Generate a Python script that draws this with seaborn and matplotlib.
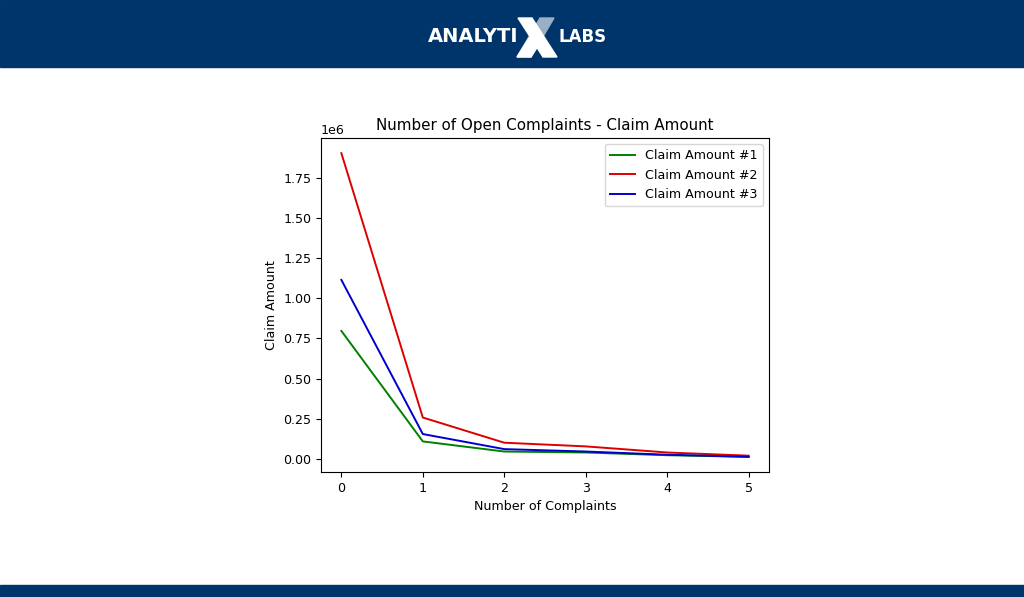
import matplotlib
matplotlib.use("Agg")
import matplotlib.pyplot as plt
import seaborn as sns
import pandas as pd
from matplotlib.patches import Rectangle, Polygon

complaints = [0, 1, 2, 3, 4, 5]
claim1 = [797000, 108000, 45000, 39000, 22000, 12000]
claim2 = [1905000, 257000, 100000, 77000, 39000, 19000]
claim3 = [1115000, 154000, 60000, 45000, 25000, 12000]
series_names = ["Claim Amount #1", "Claim Amount #2", "Claim Amount #3"]
colors = ["green", "#dd0000", "#0000cc"]

df = pd.DataFrame({
    "Number of Complaints": complaints * 3,
    "Claim Amount": claim1 + claim2 + claim3,
    "series": [series_names[0]] * 6 + [series_names[1]] * 6 + [series_names[2]] * 6,
})

W, H = 1024, 597
fig = plt.figure(figsize=(W / 100, H / 100), dpi=100)
navy = "#00356b"


def px(x, y):
    return (x / W, 1 - y / H)


fig.patches.append(Rectangle((0, 1 - 67 / H), 1, 67 / H, transform=fig.transFigure,
                             color=navy, zorder=0))
fig.patches.append(Rectangle((0, 0), 1, 12 / H, transform=fig.transFigure,
                             color=navy, zorder=0))
# logo text
fig.text(428 / W, 1 - 37 / H, "ANALYTI", color="white", fontsize=14, fontweight="bold",
         va="center", ha="left", family="DejaVu Sans")
fig.text(559 / W, 1 - 37 / H, "LABS", color="white", fontsize=12, fontweight="bold",
         va="center", ha="left", family="DejaVu Sans")
# logo X drawn as two strokes
slash = [px(540, 18), px(554, 18), px(531, 57), px(517, 57)]
fig.patches.append(Polygon(slash, closed=True, transform=fig.transFigure,
                           color="#9aaec8", zorder=1))
slash_low = [px(529, 38), px(543, 38), px(531, 57), px(517, 57)]
fig.patches.append(Polygon(slash_low, closed=True, transform=fig.transFigure,
                           color="white", zorder=2))
back = [px(518, 18), px(532, 18), px(557, 57), px(543, 57)]
fig.patches.append(Polygon(back, closed=True, transform=fig.transFigure,
                           color="white", zorder=2))

ax = fig.add_axes([321 / W, 1 - 472 / H, 448 / W, 334 / H])
sns.lineplot(data=df, x="Number of Complaints", y="Claim Amount", hue="series",
             palette=colors, ax=ax, linewidth=1.4)
ax.set_title("Number of Open Complaints - Claim Amount", fontsize=10.9)
ax.set_xlabel("Number of Complaints", fontsize=9.1)
ax.set_ylabel("Claim Amount", fontsize=9.1)
ax.tick_params(labelsize=9.1)
ax.yaxis.get_offset_text().set_fontsize(9.1)
ax.legend(title=None, loc="upper right", fontsize=9.1)
ax.set_xticks(complaints)

fig.savefig("out.png", dpi=100)
